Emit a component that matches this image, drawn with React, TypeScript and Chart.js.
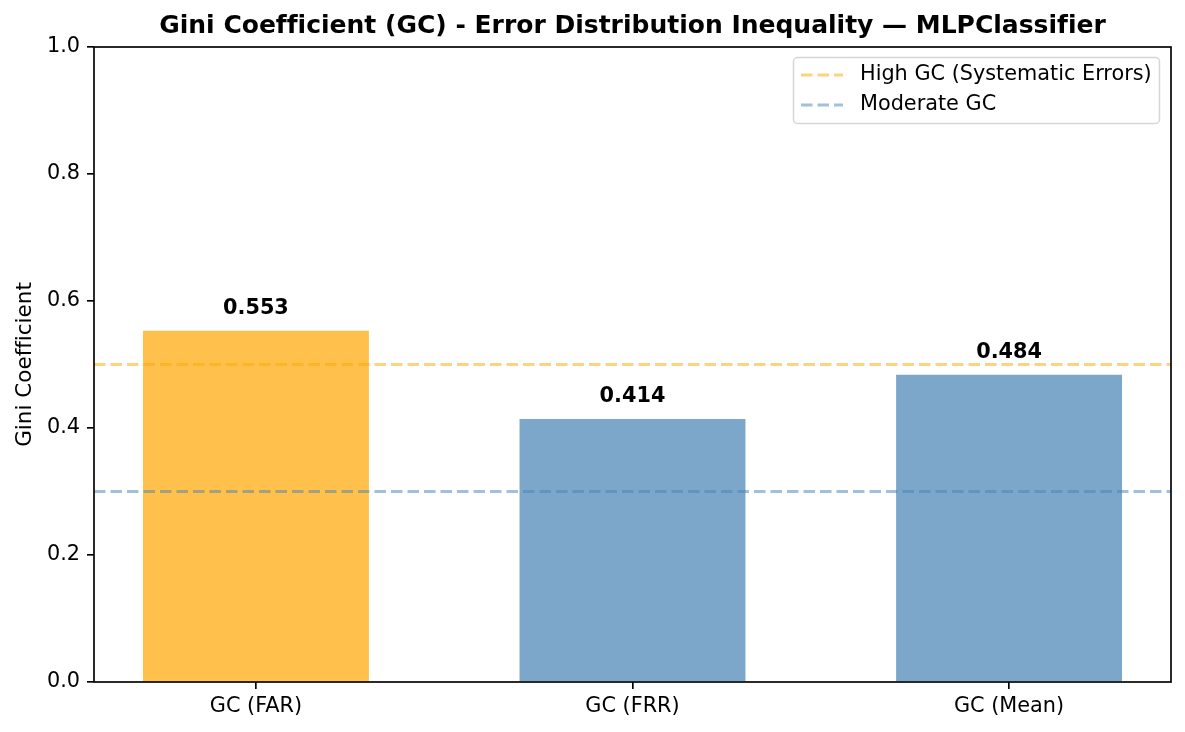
import React, { useEffect, useRef } from "react";
import { Chart, registerables } from "chart.js";

Chart.register(...registerables);

const categories = ["GC (FAR)", "GC (FRR)", "GC (Mean)"];
const values = [0.553, 0.414, 0.484];
const barColors = ["rgba(255,165,0,0.7)", "rgba(70,130,180,0.7)", "rgba(70,130,180,0.7)"];
const thresholdLabels = ["High GC (Systematic Errors)", "Moderate GC"];
const thresholdValues = [0.5, 0.3];
const thresholdColors = ["rgba(255,165,0,0.5)", "rgba(70,130,180,0.5)"];
const yTicks = [0, 0.2, 0.4, 0.6, 0.8, 1.0];
const xMin = -0.43;
const xMax = 2.43;
const titleText = "Gini Coefficient (GC) - Error Distribution Inequality — MLPClassifier";
const yTitle = "Gini Coefficient";

const FONT = "'DejaVu Sans', sans-serif";
const DASH = [11.5, 5];

export default function App() {
  const ref = useRef<HTMLCanvasElement>(null);
  useEffect(() => {
    document.body.style.margin = "0";
    const ctx = ref.current!;
    const overlay = {
      id: "overlay",
      beforeDraw(chart: any) {
        try {
          (chart.ctx as any).textRendering = "optimizeSpeed";
        } catch (e) {}
      },
      afterDatasetsDraw(chart: any) {
        const c = chart.ctx;
        const meta = chart.getDatasetMeta(chart.data.datasets.length - 1);
        c.save();
        c.fillStyle = "#000";
        c.font = `bold 20.8px ${FONT}`;
        c.textAlign = "center";
        c.textBaseline = "alphabetic";
        meta.data.forEach((el: any, i: number) => {
          c.fillText(values[i].toFixed(3), el.x, el.y - 17);
        });
        c.restore();
      },
      afterDraw(chart: any) {
        const c = chart.ctx;
        const a = chart.chartArea;
        c.save();
        // frame
        c.strokeStyle = "#000";
        c.lineWidth = 1.67;
        c.strokeRect(a.left, a.top, a.right - a.left, a.bottom - a.top);
        // title
        c.fillStyle = "#000";
        c.font = `bold 25px ${FONT}`;
        c.textAlign = "center";
        c.textBaseline = "middle";
        c.fillText(titleText, (a.left + a.right) / 2, 26);
        // y title
        c.save();
        c.translate(25, (a.top + a.bottom) / 2);
        c.rotate(-Math.PI / 2);
        c.font = `21.5px ${FONT}`;
        c.fillText(yTitle, 0, 0);
        c.restore();
        // legend
        const lx = 793, ly = 57, lw = 366, lh = 66;
        c.fillStyle = "rgba(255,255,255,0.8)";
        c.strokeStyle = "#d6d6d6";
        c.lineWidth = 1.5;
        c.beginPath();
        (c as any).roundRect(lx + 0.5, ly + 0.5, lw, lh, 4);
        c.fill();
        c.stroke();
        c.font = `20.8px ${FONT}`;
        c.textAlign = "left";
        c.textBaseline = "middle";
        thresholdLabels.forEach((lab, i) => {
          const y = ly + 18 + i * 30;
          c.strokeStyle = thresholdColors[i];
          c.lineWidth = 3;
          c.setLineDash(DASH);
          c.beginPath();
          c.moveTo(801, y);
          c.lineTo(843, y);
          c.stroke();
          c.setLineDash([]);
          c.fillStyle = "#000";
          c.fillText(lab, 860, y);
        });
        c.restore();
      },
    };

    const lineSets = thresholdValues.map((v, i) => ({
      type: "line" as const,
      label: thresholdLabels[i],
      data: [
        { x: xMin, y: v },
        { x: xMax, y: v },
      ],
      borderColor: thresholdColors[i],
      borderWidth: 3,
      borderDash: DASH,
      pointRadius: 0,
      order: 0,
    }));

    const chart = new Chart(ctx, {
      type: "bar",
      data: {
        datasets: [
          ...lineSets,
          {
            type: "bar" as const,
            label: "bars",
            data: categories.map((_, i) => ({ x: i, y: values[i] })),
            backgroundColor: barColors,
            barPercentage: 0.6,
            categoryPercentage: 1,
            order: 1,
          },
        ] as any,
      },
      options: {
        animation: false,
        responsive: false,
        maintainAspectRatio: false,
        devicePixelRatio: 1,
        layout: { padding: { top: 47, right: 14, left: 0, bottom: 0 } },
        plugins: { legend: { display: false }, tooltip: { enabled: false }, title: { display: false } },
        scales: {
          x: {
            type: "linear",
            min: xMin,
            max: xMax,
            offset: false,
            grid: {
              display: true,
              offset: false,
              drawOnChartArea: false,
              drawTicks: true,
              tickLength: 7,
              lineWidth: 1.67,
              color: "#000",
            },
            border: { display: false },
            afterBuildTicks: (s: any) => {
              s.ticks = categories.map((_, i) => ({ value: i }));
            },
            afterFit: (s: any) => {
              s.height = 50;
            },
            ticks: {
              color: "#000",
              font: { family: FONT, size: 20.8 },
              padding: 5,
              maxRotation: 0,
              autoSkip: false,
              callback: (v: any) => categories[Math.round(Number(v))] ?? "",
            },
          },
          y: {
            type: "linear",
            min: 0,
            max: 1,
            grid: {
              display: true,
              drawOnChartArea: false,
              drawTicks: true,
              tickLength: 7,
              lineWidth: 1.67,
              color: "#000",
            },
            border: { display: false },
            afterBuildTicks: (s: any) => {
              s.ticks = yTicks.map((v) => ({ value: v }));
            },
            afterFit: (s: any) => {
              s.width = 94;
            },
            ticks: {
              color: "#000",
              font: { family: FONT, size: 20.8 },
              padding: 7,
              callback: (v: any) => Number(v).toFixed(1),
            },
          },
        },
      } as any,
      plugins: [overlay],
    });
    return () => chart.destroy();
  }, []);
  return (
    <div style={{ position: "absolute", left: 0, top: 0, width: 1185, height: 732, background: "#fff" }}>
      <canvas ref={ref} width={1185} height={732} style={{ width: 1185, height: 732 }} />
    </div>
  );
}
